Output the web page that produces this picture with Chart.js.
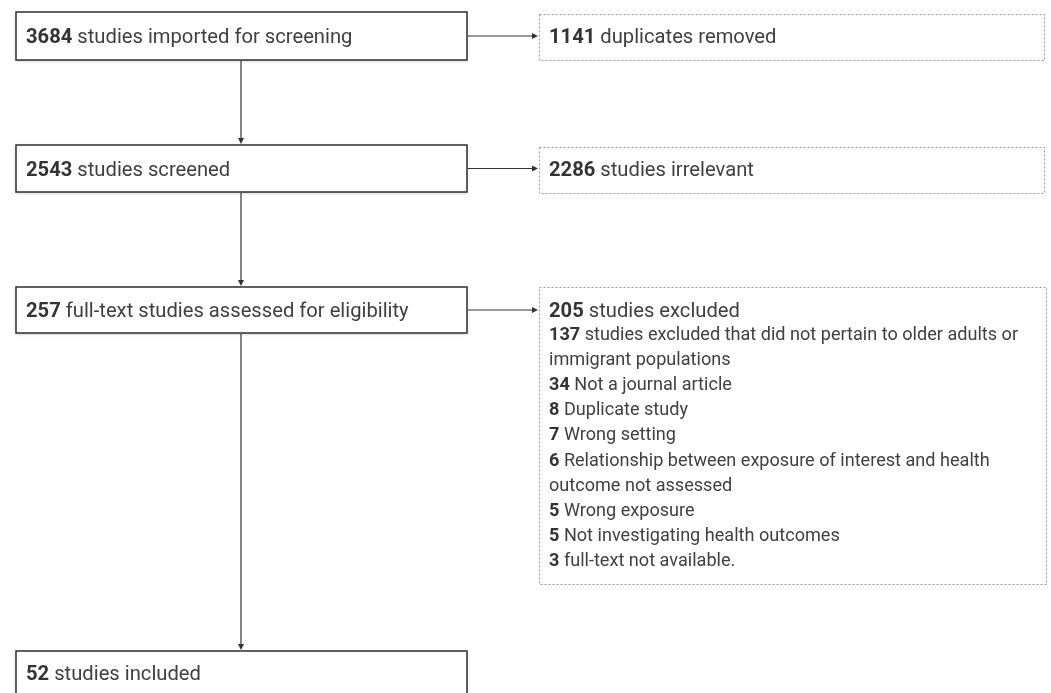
<!DOCTYPE html>
<html>
<head>
<meta charset="utf-8">
<script src="https://cdn.jsdelivr.net/npm/chart.js@4"></script>
<style>
html,body{margin:0;padding:0;background:#fff;}
canvas{display:block;}
</style>
</head>
<body>
<canvas id="c" width="1051" height="693"></canvas>
<script>
// ---- data ----
const stageCounts = [3684, 2543, 257, 52];
const stageLabels = ['studies imported for screening', 'studies screened', 'full-text studies assessed for eligibility', 'studies included'];
const removedCounts = [1141, 2286, 205];
const removedLabels = ['duplicates removed', 'studies irrelevant', 'studies excluded'];
const exclusionCounts = [137, 34, 8, 7, 6, 5, 5, 3];
const exclusionReasons = [
  'studies excluded that did not pertain to older adults or\nimmigrant populations',
  'Not a journal article',
  'Duplicate study',
  'Wrong setting',
  'Relationship between exposure of interest and health\noutcome not assessed',
  'Wrong exposure',
  'Not investigating health outcomes',
  'full-text not available.'
];

// ---- layout (diagram coordinates, in scale units) ----
const stageBoxes = [ {x0:16,y0:12,x1:467,y1:60}, {x0:16,y0:145,x1:467,y1:192}, {x0:16,y0:287,x1:467,y1:333}, {x0:16,y0:651,x1:467,y1:720} ];
const sideBoxes = [ {x0:539,y0:14,x1:1044,y1:60}, {x0:539,y0:147,x1:1044,y1:193}, {x0:539,y0:287,x1:1046,y1:584} ];
const spineX = 241;
const TEXT_DY = 2;
const FONT = 'Roboto, "Noto Sans", sans-serif';
const TEXT = '#404040';
const NUMC = '#333333';

function drawNumText(ctx, x, y, num, label, size){
  ctx.textBaseline = 'middle';
  ctx.textAlign = 'left';
  ctx.fillStyle = NUMC;
  ctx.font = 'bold ' + size + 'px ' + FONT;
  const n = String(num) + ' ';
  ctx.fillText(String(num), x, y);
  const w = ctx.measureText(n).width;
  ctx.fillStyle = TEXT;
  ctx.font = size + 'px ' + FONT;
  ctx.fillText(label, x + w, y);
}

function arrow(ctx, x0, y0, x1, y1){
  ctx.save();
  ctx.strokeStyle = '#333';
  ctx.fillStyle = '#333';
  ctx.lineWidth = 1.2;
  const ang = Math.atan2(y1 - y0, x1 - x0);
  const L = 6, W = 3;
  ctx.beginPath();
  ctx.moveTo(x0, y0);
  ctx.lineTo(x1 - L * Math.cos(ang), y1 - L * Math.sin(ang));
  ctx.stroke();
  ctx.beginPath();
  ctx.moveTo(x1, y1);
  ctx.lineTo(x1 - L*Math.cos(ang) + W*Math.sin(ang), y1 - L*Math.sin(ang) - W*Math.cos(ang));
  ctx.lineTo(x1 - L*Math.cos(ang) - W*Math.sin(ang), y1 - L*Math.sin(ang) + W*Math.cos(ang));
  ctx.closePath();
  ctx.fill();
  ctx.restore();
}

const flowPlugin = {
  id: 'flow',
  afterDraw(chart){
    const ctx = chart.ctx;
    const xs = chart.scales.x, ys = chart.scales.y;
    const px = v => xs.getPixelForValue(v);
    const py = v => ys.getPixelForValue(v);
    ctx.save();
    // stage boxes
    stageBoxes.forEach((b, i) => {
      const x0 = px(b.x0), y0 = py(b.y0), x1 = px(b.x1), y1 = py(b.y1);
      ctx.save();
      ctx.shadowColor = 'rgba(0,0,0,0.25)';
      ctx.shadowBlur = 3;
      ctx.shadowOffsetY = 1;
      ctx.fillStyle = '#fff';
      ctx.fillRect(x0, y0, x1 - x0, y1 - y0);
      ctx.restore();
      ctx.strokeStyle = '#2e2e2e';
      ctx.lineWidth = 1.5;
      ctx.strokeRect(x0, y0, x1 - x0, y1 - y0);
      const ty = ((i === stageBoxes.length - 1) ? py(b.y0 + 22) : (y0 + y1) / 2) + TEXT_DY;
      drawNumText(ctx, px(b.x0 + 10), ty, stageCounts[i], stageLabels[i], 20.2);
    });
    // side boxes
    sideBoxes.forEach((b, i) => {
      const x0 = px(b.x0), y0 = py(b.y0), x1 = px(b.x1), y1 = py(b.y1);
      ctx.save();
      ctx.strokeStyle = '#9a9a9a';
      ctx.lineWidth = 1;
      ctx.setLineDash([2, 2]);
      ctx.strokeRect(x0 + 0.5, y0 + 0.5, x1 - x0, y1 - y0);
      ctx.restore();
      const ty = ((i < 2) ? (py(stageBoxes[i].y0) + py(stageBoxes[i].y1)) / 2 : py(b.y0 + 23)) + TEXT_DY;
      drawNumText(ctx, px(b.x0 + 10), ty, removedCounts[i], removedLabels[i], 20.2);
    });
    // exclusion reasons
    const eb = sideBoxes[2];
    let line = 0;
    exclusionCounts.forEach((c, i) => {
      const parts = exclusionReasons[i].split('\n');
      parts.forEach((p, k) => {
        const y = py(eb.y0 + 46.5 + line * 25.1) + TEXT_DY;
        if (k === 0) drawNumText(ctx, px(eb.x0 + 10), y, c, p, 18.1);
        else {
          ctx.font = '18.1px ' + FONT;
          ctx.fillStyle = TEXT;
          ctx.textAlign = 'left';
          ctx.textBaseline = 'middle';
          ctx.fillText(p, px(eb.x0 + 10), y);
        }
        line++;
      });
    });
    // vertical arrows
    for (let i = 0; i < stageBoxes.length - 1; i++) {
      arrow(ctx, px(spineX), py(stageBoxes[i].y1) + 1, px(spineX), py(stageBoxes[i + 1].y0) - 1);
    }
    // horizontal arrows
    for (let i = 0; i < sideBoxes.length; i++) {
      const yc = (py(stageBoxes[i].y0) + py(stageBoxes[i].y1)) / 2;
      arrow(ctx, px(stageBoxes[i].x1) + 1, yc, px(sideBoxes[i].x0) - 1, yc);
    }
    ctx.restore();
  }
};

new Chart(document.getElementById('c'), {
  type: 'scatter',
  data: { datasets: [{ data: [], showLine: false }] },
  options: {
    responsive: false,
    animation: false,
    layout: { padding: 0 },
    plugins: { legend: { display: false }, tooltip: { enabled: false } },
    scales: {
      x: { type: 'linear', min: 0, max: 1051, display: false },
      y: { type: 'linear', min: 0, max: 693, reverse: true, display: false }
    }
  },
  plugins: [flowPlugin]
});
</script>
</body>
</html>
